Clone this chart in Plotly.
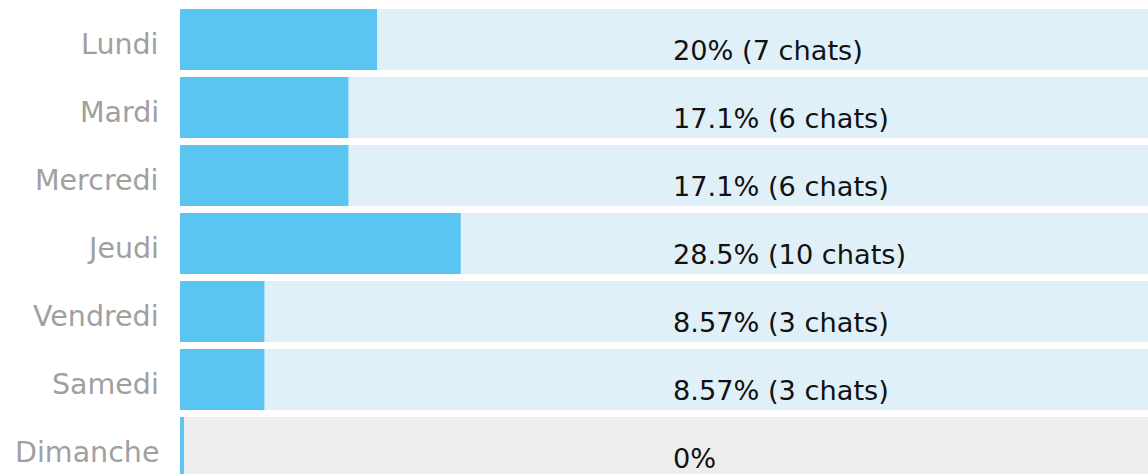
import plotly.graph_objects as go

days = ["Lundi", "Mardi", "Mercredi", "Jeudi", "Vendredi", "Samedi", "Dimanche"]
percents = [20, 17.1, 17.1, 28.5, 8.57, 8.57, 0]
chats = [7, 6, 6, 10, 3, 3, 0]
labels = ["20% (7 chats)", "17.1% (6 chats)", "17.1% (6 chats)", "28.5% (10 chats)",
          "8.57% (3 chats)", "8.57% (3 chats)", "0%"]

W, H = 1148, 474
LEFT = 180
FULL_PX = 985  # pixel width of 100%
x_max = (W - LEFT) / FULL_PX * 100
PITCH = 68
y_top = -39.5 / PITCH
y_bot = y_top + H / PITCH
FONT = "DejaVu Sans"

idx = list(range(len(days)))
bg_colors = ["#E0F0F8" if c > 0 else "#EDEDED" for c in chats]
min_vis = 0.4
shown = [max(p, min_vis) for p in percents]

fig = go.Figure()
fig.add_trace(go.Bar(x=[100] * len(days), y=idx, orientation="h",
                     marker=dict(color=bg_colors, line=dict(width=0)),
                     hoverinfo="skip", showlegend=False))
fig.add_trace(go.Bar(x=shown, y=idx, orientation="h",
                     marker=dict(color="#5BC5F2", line=dict(width=0)),
                     showlegend=False))

for i, lab in zip(idx, labels):
    fig.add_annotation(x=50, y=i, text=lab, showarrow=False, xanchor="left",
                       yanchor="middle", yshift=-11, xshift=-2,
                       font=dict(family=FONT, size=27.2, color="#111111"))

for i, d in zip(idx, days):
    fig.add_annotation(x=0, xref="paper", y=i, text=d, showarrow=False,
                       xanchor="right", yanchor="middle", xshift=-19, yshift=-5,
                       font=dict(family=FONT, size=28.5, color="#A0A0A0"))

fig.update_layout(
    width=W, height=H, barmode="overlay", bargap=7 / PITCH,
    margin=dict(l=LEFT, r=0, t=0, b=0),
    plot_bgcolor="white", paper_bgcolor="white",
    xaxis=dict(range=[0, x_max], visible=False, fixedrange=True),
    yaxis=dict(range=[y_bot, y_top], visible=False, fixedrange=True),
)

fig.write_html("out.html", config={"displayModeBar": False},
               post_script="document.body.style.margin='0';document.body.style.overflow='hidden';")
